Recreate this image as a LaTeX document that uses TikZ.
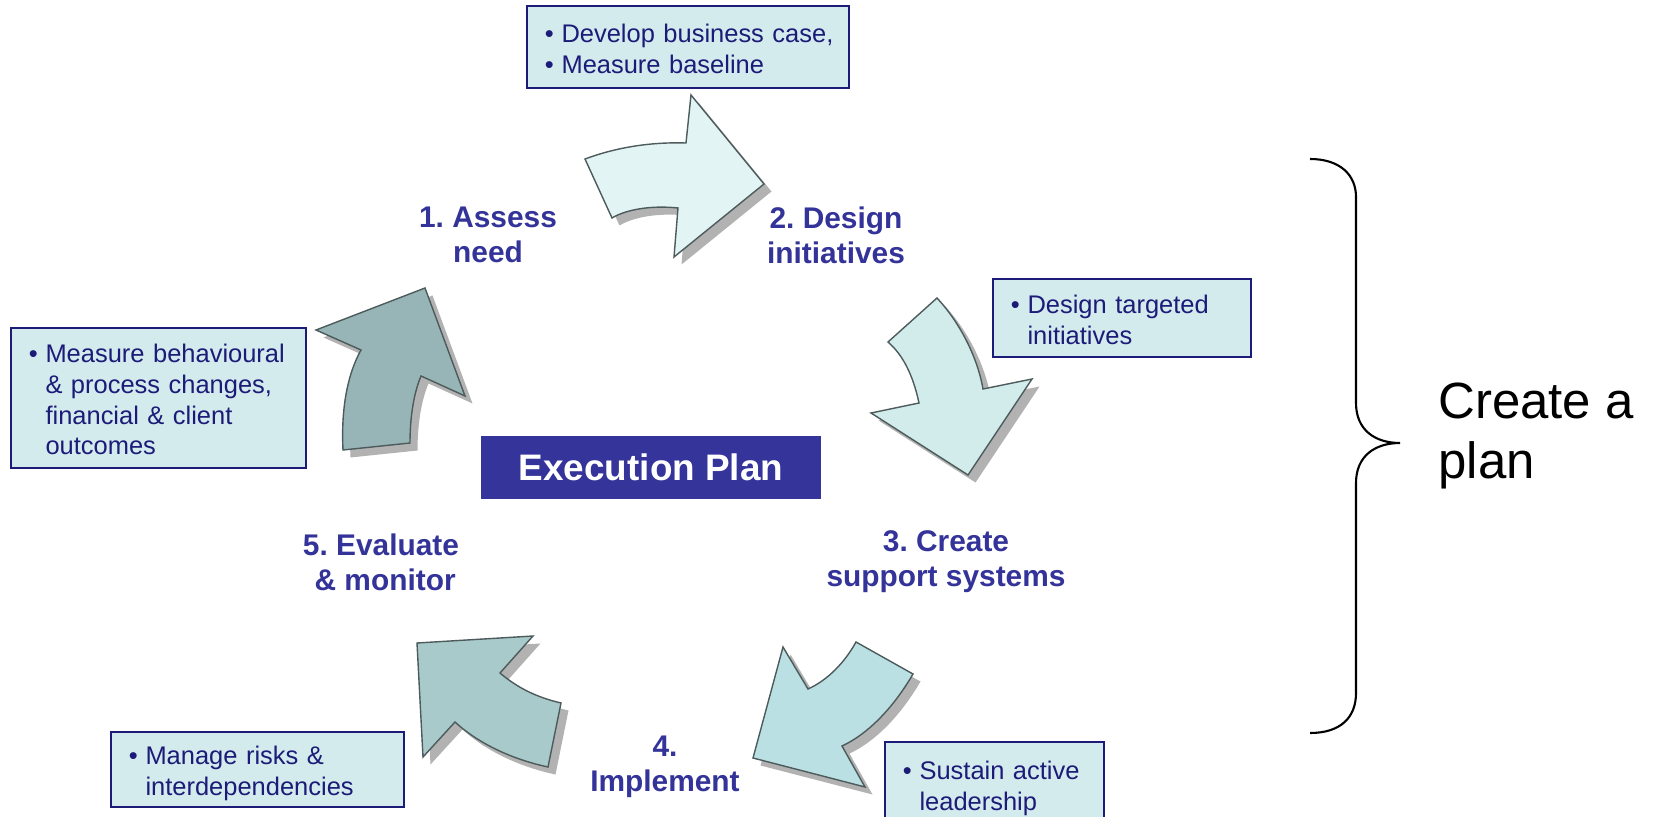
\documentclass[tikz,border=0pt]{standalone}
\usepackage{fontspec}
\setmainfont{Liberation Sans}
\usetikzlibrary{shadows}
\frenchspacing

\definecolor{navy}{HTML}{1C1C78}
\definecolor{labelblue}{HTML}{333399}
\definecolor{planblue}{HTML}{34349A}
\definecolor{notefill}{HTML}{D4EBEE}
\definecolor{arrowline}{HTML}{4D5B5C}
\definecolor{arrA}{HTML}{E3F4F4}
\definecolor{arrB}{HTML}{D2ECEC}
\definecolor{arrC}{HTML}{BAE0E3}
\definecolor{arrD}{HTML}{A9CACB}
\definecolor{arrE}{HTML}{97B5B6}

\tikzset{
  cyclearrow/.style={draw=arrowline, line width=0.8pt, line join=miter,
    general shadow={fill=gray!60, shadow xshift=0.15cm, shadow yshift=-0.15cm}},
  note/.style={draw=navy, line width=1.1pt, fill=notefill, text=navy,
    anchor=north west, align=left, inner xsep=0.36cm, inner ysep=0pt,
    font=\fontsize{14.5}{17.5}\selectfont},
  stagelbl/.style={text=labelblue, align=center,
    font=\bfseries\fontsize{17}{20}\selectfont},
}
\newcommand{\bul}{\textbullet\hspace{0.3em}}
\newcommand{\nobul}{\phantom{\textbullet}\hspace{0.3em}}
\newcommand{\notelines}[1]{\begin{tabular}{@{}l@{}}\rule{0pt}{17.5pt}#1\end{tabular}}

\begin{document}
\begin{tikzpicture}[x=0.02cm, y=-0.02cm]
\useasboundingbox (0,0) rectangle (1653,817);
\clip (0,0) rectangle (1653,817);

% cycle arrows
\draw[cyclearrow, fill=arrA] (585,159) .. controls (620,146) and (655,142) .. (686,143)
  -- (691,95) -- (764,184) -- (674,257) -- (678,208)
  .. controls (650,205) and (625,210) .. (612,218) -- cycle;% 1 -> 2
\draw[cyclearrow, fill=arrB] (937,298) .. controls (962,325) and (978,360) .. (983,389)
  -- (1032,379) -- (968,475) -- (871,413) -- (919,403)
  .. controls (913,375) and (903,355) .. (888,342) -- cycle;% 2 -> 3
\draw[cyclearrow, fill=arrC] (856,642) -- (913,674)
  .. controls (895,705) and (870,733) .. (842,746)
  -- (865,787) -- (753,758) -- (783,647) -- (808,689)
  .. controls (828,680) and (845,662) .. (856,642) -- cycle;% 3 -> 4
\draw[cyclearrow, fill=arrD] (417,643) -- (533,636) -- (500,673)
  .. controls (520,690) and (540,698) .. (561,703) -- (548,767)
  .. controls (515,760) and (480,745) .. (455,722) -- (423,757) -- cycle;% 4 -> 5
\draw[cyclearrow, fill=arrE] (316,330) -- (425,288) -- (465,396) -- (421,376)
  .. controls (413,395) and (410,420) .. (410,443) -- (343,450)
  .. controls (341,410) and (347,375) .. (361,350) -- cycle;% 5 -> 1

% stage labels
\node[stagelbl] (assess) at (488,235) {1. Assess\\need};
\node[stagelbl] (design) at (836,235) {2. Design\\initiatives};
\node[stagelbl] (support) at (946,562) {3. Create\\support systems};
\node[stagelbl] (implement) at (665,767) {4.\\Implement};
\node[stagelbl] (evaluate) at (381,562) {5. Evaluate\\\ \& monitor};

\node[fill=planblue, text=white, font=\bfseries\fontsize{21}{24}\selectfont,
  minimum width=6.8cm, minimum height=1.26cm] (plan) at (651,467.5) {Execution Plan};

% notes
\node[note, text width=5.72cm, minimum height=1.64cm] (caseNote) at (526,5)
  {\notelines{\bul Develop business case,\\\bul Measure baseline}};
\node[note, text width=4.44cm, minimum height=1.56cm] (targetNote) at (992,278)
  {\notelines{\bul Design targeted\\\nobul initiatives}};
\node[note, text width=3.66cm, minimum height=1.7cm] (leadNote) at (884,741)
  {\notelines{\bul Sustain active\\\nobul leadership}};
\node[note, text width=5.14cm, minimum height=1.5cm] (riskNote) at (110,731)
  {\notelines{\bul Manage risks \&\\\nobul interdependencies}};
\node[note, text width=5.18cm, minimum height=2.8cm] (measureNote) at (10,327)
  {\notelines{\bul Measure behavioural\\\nobul \& process changes,\\\nobul financial \& client\\\nobul outcomes}};

% brace
\draw[line width=1.2pt] (1310,159) .. controls (1340,159) and (1356,175) .. (1356,197)
  -- (1356,403) .. controls (1356,430) and (1375,443) .. (1400,443)
  .. controls (1375,443) and (1356,456) .. (1356,483)
  -- (1356,693) .. controls (1356,718) and (1340,733) .. (1310,733);
\node[anchor=north west, inner sep=0pt, align=left,
  font=\fontsize{29}{34}\selectfont] (createPlan) at (1438,383) {Create a\\plan};
\end{tikzpicture}
\end{document}
